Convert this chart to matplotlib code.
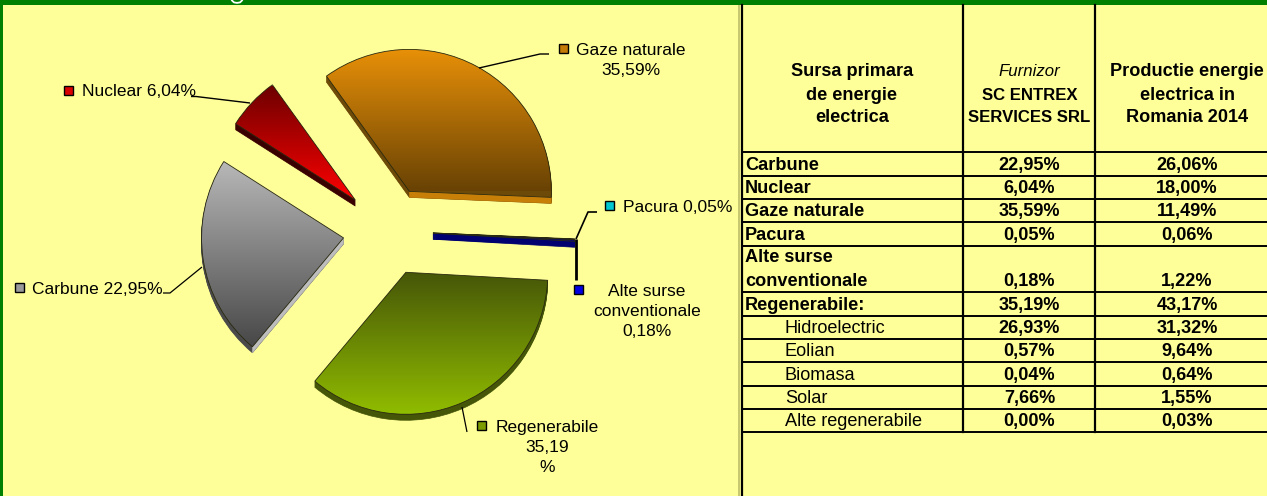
import matplotlib
matplotlib.use("Agg")
import matplotlib.pyplot as plt
import numpy as np
from matplotlib.colors import LinearSegmentedColormap
from matplotlib.patches import Wedge, Polygon, Rectangle

plt.rcParams['font.family'] = ['Liberation Sans', 'DejaVu Sans']

# ---- data ----
pie_names = ["Gaze naturale", "Nuclear", "Carbune", "Regenerabile", "Alte surse conventionale", "Pacura"]
pie_values = [35.59, 6.04, 22.95, 35.19, 0.18, 0.05]
table_rows = ["Carbune", "Nuclear", "Gaze naturale", "Pacura", "Alte surse\nconventionale", "Regenerabile:",
              "Hidroelectric", "Eolian", "Biomasa", "Solar", "Alte regenerabile"]
furnizor = ["22,95%", "6,04%", "35,59%", "0,05%", "0,18%", "35,19%", "26,93%", "0,57%", "0,04%", "7,66%", "0,00%"]
productie = ["26,06%", "18,00%", "11,49%", "0,06%", "1,22%", "43,17%", "31,32%", "9,64%", "0,64%", "1,55%", "0,03%"]

# ---- styles ----
W, H = 1267, 496
BG = "#FFFF99"
GREEN = "#008000"
grad_top = ["#E89008", "#6E0000", "#B8B8B8", "#465608", "#00006E", "#00006E"]
grad_bot = ["#684204", "#FF0000", "#484848", "#90BC00", "#0000A0", "#0000A0"]
side_col = ["#6E4A08", "#3A0000", "#4A4A4A", "#465608", "#000070", "#000070"]
front_col = ["#C87F08", None, "#BDBDBD", None, None, None]   # lighter radial edge
front_edge = [1, None, 2, None, None, None]
marker_col = ["#C47A06", "#D80000", "#9A9A9A", "#7C9C00", "#0000E0", "#00C8D0"]
DEPTH = 6
TXT = "#000000"


def Y(py):
    return H - py


fig = plt.figure(figsize=(W / 100, H / 100), dpi=100, facecolor=BG)
ax = fig.add_axes([0, 0, 1, 1])
ax.set_facecolor(BG)

wedges, _ = ax.pie(pie_values, explode=[45] * 6, startangle=-2.4, radius=142,
                   center=(388, Y(231)), frame=True)
ax.set_xlim(0, W)
ax.set_ylim(0, H)
ax.set_aspect('auto')
ax.axis('off')

# vertical extent of each gradient, as fractions of the radius below / above the apex
grad_span = [(0.0, 1.0), (0.0, 0.8), (-0.76, 0.54), (-1.0, 0.0), (-1.0, 1.0), (-1.0, 1.0)]

# extruded pie, gradient top faces
for i, w in enumerate(wedges):
    cx, cy = w.center
    w.set_visible(False)
    for d in range(DEPTH, 0, -1):
        ax.add_patch(Wedge((cx, cy - d), w.r, w.theta1, w.theta2, fc=side_col[i], ec=side_col[i], lw=0.5, zorder=2))
    if front_edge[i]:
        th = np.radians(w.theta1 if front_edge[i] == 1 else w.theta2)
        px, py = cx + w.r * np.cos(th), cy + w.r * np.sin(th)
        ax.add_patch(Polygon([(cx, cy), (px, py), (px, py - DEPTH), (cx, cy - DEPTH)],
                             fc=front_col[i], ec=front_col[i], lw=0.3, zorder=2.5))
    top = Wedge((cx, cy), w.r, w.theta1, w.theta2, fc='none', ec='none', zorder=3)
    ax.add_patch(top)
    cmap = LinearSegmentedColormap.from_list("g%d" % i, [grad_top[i], grad_bot[i]])
    lo, hi = grad_span[i]
    im = ax.imshow(np.linspace(0, 1, 256)[:, None], cmap=cmap, aspect='auto', origin='upper',
                   extent=(cx - w.r, cx + w.r, cy + lo * w.r, cy + hi * w.r), zorder=3, interpolation='bilinear')
    im.set_clip_path(top)
    ax.add_patch(Wedge((cx, cy), w.r, w.theta1, w.theta2, fc='none', ec="#2A2A10", lw=0.6, zorder=4))
ax.set_xlim(0, W)
ax.set_ylim(0, H)

# leader lines
leaders = [
    [(479, 68), (540, 54), (549, 54)],
    [(250, 103), (196, 96.5), (191, 96.5)],
    [(202, 267), (170, 293), (163, 293)],
    [(462, 407), (467, 432)],
    [(576, 280), (576, 239)],
    [(576, 239), (588, 212), (597, 212)],
]
leader_lw = [1.0, 1.0, 0.9, 0.9, 2.0, 1.2]
for pts, lw in zip(leaders, leader_lw):
    ax.plot([p[0] for p in pts], [Y(p[1]) for p in pts], color="black", lw=lw, zorder=5, solid_capstyle='butt')

# legend-style labels with square keys
LSIZE = 12.5
labels = [
    ("Gaze naturale\n35,59%", 631, 60.5, 'center', 563, 48),
    ("Nuclear 6,04%", 82, 91.5, 'left', 68, 90),
    ("Carbune 22,95%", 32, 289, 'left', 19, 287),
    ("Regenerabile\n35,19\n%", 547, 447.5, 'center', 481, 425),
    ("Alte surse\nconventionale\n0,18%", 647, 311.5, 'center', 578, 289),
    ("Pacura 0,05%", 623, 207, 'left', 609, 205),
]
for i, (txt, tx, ty, ha, mx, my) in enumerate(labels):
    ax.text(tx, Y(ty), txt, ha=ha, va='center', multialignment='center', fontsize=LSIZE,
            color=TXT, linespacing=1.42, zorder=6)
    ax.add_patch(Rectangle((mx - 4.5, Y(my) - 4.5), 9, 9, fc=marker_col[i], ec="black", lw=1.0, zorder=6))

# frame
ax.add_patch(Rectangle((0, Y(4.5)), W, 4.5, fc=GREEN, ec='none', zorder=7))
ax.add_patch(Rectangle((0, 0), 3, H, fc=GREEN, ec='none', zorder=7))
ax.plot([232, 234, 237, 240, 242], [Y(0.5), Y(2.4), Y(2.9), Y(2.4), Y(0.5)], color="white", lw=1.3, zorder=8)
ax.add_patch(Rectangle((738, 0), 2, Y(4.5), fc="#C8C870", ec='none', zorder=7))

# table
col_x = [741.5, 963, 1095]
row_y = [152, 175.7, 199, 222, 245.7, 291.7, 315.7, 339, 362, 385.7, 409, 432]
TSIZE = 13.1
ax.plot([col_x[0]] * 2, [Y(5), 0], color="black", lw=1.6, zorder=8)
for x in col_x[1:]:
    ax.plot([x, x], [Y(5), Y(row_y[-1])], color="black", lw=1.6, zorder=8)
for y in row_y:
    ax.plot([col_x[0], W], [Y(y), Y(y)], color="black", lw=1.4, zorder=8)

hc = [852, 1029.5, 1187]
header_sizes = [TSIZE, 12.1, TSIZE]
for cx, lines, fs in zip(hc, [("Sursa primara", "de energie", "electrica"),
                              ("Furnizor", "SC ENTREX", "SERVICES SRL"),
                              ("Productie energie", "electrica in", "Romania 2014")], header_sizes):
    for k, (line, y) in enumerate(zip(lines, (72, 95, 118))):
        italic = line == "Furnizor"
        ax.text(cx, Y(y), line, ha='center', va='center', fontsize=fs, zorder=9, color=TXT,
                fontweight='normal' if italic else 'bold', fontstyle='italic' if italic else 'normal')

for r, (name, a, b) in enumerate(zip(table_rows, furnizor, productie)):
    y0, y1 = row_y[r], row_y[r + 1]
    sub = r >= 6
    xt = 785 if sub else 745
    cy_txt = y1 - 10.5
    if "\n" in name:
        first, second = name.split("\n")
        ax.text(xt, Y(y0 + 12), first, ha='left', va='center', fontsize=TSIZE, fontweight='bold', color=TXT, zorder=9)
        ax.text(xt, Y(cy_txt), second, ha='left', va='center', fontsize=TSIZE, fontweight='bold', color=TXT, zorder=9)
    else:
        ax.text(xt, Y(cy_txt), name, ha='left', va='center', fontsize=TSIZE, color=TXT, zorder=9,
                fontweight='normal' if sub else 'bold')
    ax.text(hc[1], Y(cy_txt), a, ha='center', va='center', fontsize=TSIZE, fontweight='bold', color=TXT, zorder=9)
    ax.text(hc[2], Y(cy_txt), b, ha='center', va='center', fontsize=TSIZE, fontweight='bold', color=TXT, zorder=9)

fig.savefig("out.png", dpi=100, facecolor=BG)
